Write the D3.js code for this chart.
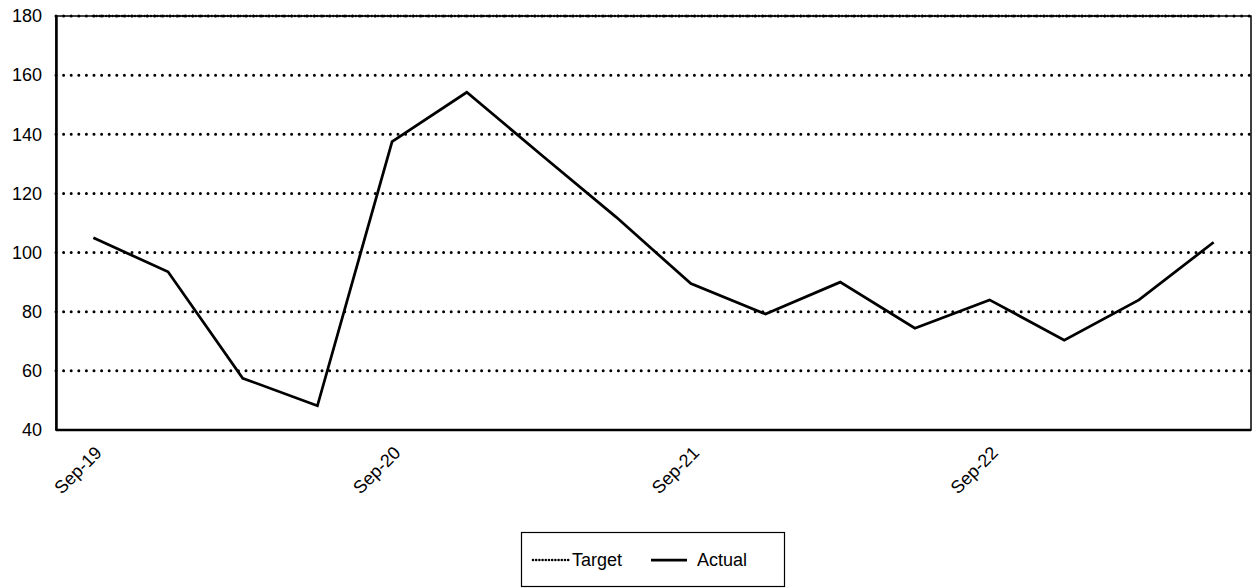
<!DOCTYPE html>
<html>
<head>
<meta charset="utf-8">
<script src="https://cdn.jsdelivr.net/npm/d3@7/dist/d3.min.js"></script>
<style>
  html, body { margin: 0; padding: 0; background: #fff; }
  svg { display: block; font-family: "Liberation Sans", Arial, sans-serif; }
</style>
</head>
<body>
<svg id="chart" width="1256" height="588"></svg>
<script>
// Quarterly periods
const quarters = [
  "Sep-19", "Dec-19", "Mar-20", "Jun-20",
  "Sep-20", "Dec-20", "Mar-21", "Jun-21",
  "Sep-21", "Dec-21", "Mar-22", "Jun-22",
  "Sep-22", "Dec-22", "Mar-23", "Jun-23"
];
const actual = [105, 93.5, 57.5, 48.2, 137.5, 154.2, 133, 112, 89.5, 79.2, 90, 74.4, 84, 70.4, 84, 103.5];
const target = [180, 180, 180, 180, 180, 180, 180, 180, 180, 180, 180, 180, 180, 180, 180, 180];
const xTickLabels = ["Sep-19", "Sep-20", "Sep-21", "Sep-22"];
const yTicks = [40, 60, 80, 100, 120, 140, 160, 180];
const seriesNames = ["Target", "Actual"];

const svg = d3.select("#chart");
const plot = { left: 56, top: 16, right: 1251, bottom: 430 };

const x = d3.scalePoint().domain(quarters).range([plot.left, plot.right]).padding(0.5);
const y = d3.scaleLinear().domain([40, 180]).range([plot.bottom, plot.top]);

// Horizontal dotted gridlines
svg.append("g")
  .selectAll("line")
  .data(yTicks.filter(v => v > 40))
  .join("line")
  .attr("x1", plot.left).attr("x2", plot.right)
  .attr("y1", d => y(d)).attr("y2", d => y(d))
  .attr("stroke", "#000")
  .attr("stroke-width", 3)
  .attr("stroke-linecap", "round")
  .attr("stroke-dasharray", "0,7.6");

// Plot area frame
svg.append("rect")
  .attr("x", plot.left).attr("y", plot.top)
  .attr("width", plot.right - plot.left).attr("height", plot.bottom - plot.top)
  .attr("fill", "none")
  .attr("stroke", "#000")
  .attr("stroke-width", 1.5);

// Y axis
const yAxis = svg.append("g")
  .attr("transform", `translate(${plot.left},0)`)
  .call(d3.axisLeft(y).tickValues(yTicks).tickSize(0).tickPadding(14).tickFormat(d3.format("d")));
yAxis.select(".domain").attr("stroke", "#000").attr("stroke-width", 2.5);
yAxis.selectAll("text").attr("font-size", 18).attr("fill", "#000")
  .attr("font-family", "'Liberation Sans', Arial, sans-serif");

// X axis
const xAxis = svg.append("g")
  .attr("transform", `translate(0,${plot.bottom})`)
  .call(d3.axisBottom(x).tickValues(xTickLabels).tickSize(0).tickPadding(0));
xAxis.select(".domain").attr("stroke", "#000").attr("stroke-width", 2.5)
  .attr("d", `M${plot.left},0H${plot.right}`);
xAxis.selectAll("text")
  .attr("font-size", 18).attr("fill", "#000")
  .attr("font-family", "'Liberation Sans', Arial, sans-serif")
  .attr("text-anchor", "end")
  .attr("dy", null)
  .attr("y", 0)
  .attr("transform", "translate(9,24) rotate(-45)");

// Series
const line = d3.line()
  .x((d, i) => x(quarters[i]))
  .y(d => y(d));

svg.append("path")
  .datum(target)
  .attr("d", line)
  .attr("fill", "none")
  .attr("stroke", "#000")
  .attr("stroke-width", 2.6)
  .attr("stroke-linecap", "round")
  .attr("stroke-dasharray", "0,3.2");

svg.append("path")
  .datum(actual)
  .attr("d", line)
  .attr("fill", "none")
  .attr("stroke", "#000")
  .attr("stroke-width", 2.75)
  .attr("stroke-linejoin", "miter");

// Legend
const legend = svg.append("g");
legend.append("rect")
  .attr("x", 521.5).attr("y", 532.5)
  .attr("width", 263).attr("height", 54)
  .attr("fill", "#fff").attr("stroke", "#000").attr("stroke-width", 1.2);

const legendItems = [
  { name: seriesNames[0], x1: 533, x2: 570, tx: 572, dash: "0,3.2", w: 2.6 },
  { name: seriesNames[1], x1: 651, x2: 687, tx: 697, dash: null, w: 2.75 }
];
legendItems.forEach(it => {
  legend.append("line")
    .attr("x1", it.x1).attr("x2", it.x2).attr("y1", 560).attr("y2", 560)
    .attr("stroke", "#000").attr("stroke-width", it.w)
    .attr("stroke-linecap", it.dash ? "round" : "butt")
    .attr("stroke-dasharray", it.dash);
  legend.append("text")
    .attr("x", it.tx).attr("y", 560).attr("dy", "0.35em")
    .attr("font-size", 18).attr("fill", "#000")
    .text(it.name);
});
</script>
</body>
</html>
